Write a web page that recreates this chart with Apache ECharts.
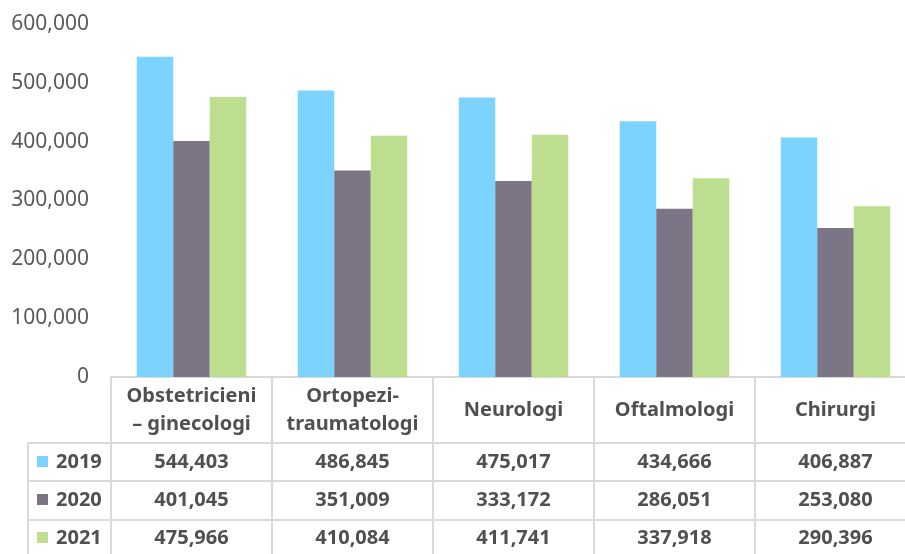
<!DOCTYPE html>
<html>
<head>
<meta charset="utf-8">
<script src="https://cdn.jsdelivr.net/npm/echarts@6/dist/echarts.min.js"></script>
<style>
  html, body { margin: 0; padding: 0; background: #fff; overflow: hidden; }
  #main { width: 930px; height: 554px; }
</style>
</head>
<body>
<div id="main"></div>
<script>
// data
var categories = ['Obstetricieni\n– ginecologi', 'Ortopezi-\ntraumatologi', 'Neurologi', 'Oftalmologi', 'Chirurgi'];
var years = ['2019', '2020', '2021'];
var values2019 = [544403, 486845, 475017, 434666, 406887];
var values2020 = [401045, 351009, 333172, 286051, 253080];
var values2021 = [475966, 410084, 411741, 337918, 290396];
var yTicks = [0, 100000, 200000, 300000, 400000, 500000, 600000];

var colors = ['#7DD3FF', '#7B7585', '#BDDE8E'];
var seriesData = [values2019, values2020, values2021];
var font = '"Noto Sans", "Open Sans", sans-serif';
var lineColor = '#d9d9d9';

function fmt(v) {
  return v.toString().replace(/\B(?=(\d{3})+(?!\d))/g, ',');
}

var chart = echarts.init(document.getElementById('main'));

// plot area runs past the right edge of the visible 905px, like the original
var option = {
  animation: false,
  backgroundColor: '#fff',
  color: colors,
  textStyle: { fontFamily: font },
  grid: { left: 111, top: 24, width: 805, height: 353 },
  xAxis: {
    type: 'category',
    data: categories,
    axisLine: { show: true, lineStyle: { color: lineColor, width: 2 } },
    axisTick: { show: true, alignWithLabel: false, length: 180, lineStyle: { color: lineColor, width: 2 } },
    axisLabel: {
      interval: 0,
      margin: 33,
      verticalAlign: 'middle',
      color: '#505050',
      fontWeight: 'bold',
      fontSize: 20,
      lineHeight: 28,
      fontFamily: font
    }
  },
  yAxis: {
    type: 'value',
    min: yTicks[0],
    max: yTicks[yTicks.length - 1],
    interval: yTicks[1] - yTicks[0],
    splitLine: { show: false },
    axisLine: { show: false },
    axisTick: { show: false },
    axisLabel: {
      margin: 22,
      color: '#595959',
      fontSize: 21,
      fontFamily: font,
      formatter: function (v) { return fmt(v); }
    }
  },
  series: years.map(function (y, i) {
    return {
      name: y,
      type: 'bar',
      data: seriesData[i],
      barGap: '0%',
      barCategoryGap: '32%',
      itemStyle: { color: colors[i] }
    };
  })
};

chart.setOption(option);

// data table under the axis
var rowY = [462, 500, 538];
var graphic = [];
[443, 481, 520].forEach(function (y) {
  graphic.push({
    type: 'line',
    shape: { x1: 28, y1: y, x2: 930, y2: y },
    style: { stroke: lineColor, lineWidth: 2 }
  });
});
graphic.push({
  type: 'line',
  shape: { x1: 28, y1: 443, x2: 28, y2: 554 },
  style: { stroke: lineColor, lineWidth: 2 }
});

years.forEach(function (y, i) {
  graphic.push({
    type: 'rect',
    shape: { x: 37, y: rowY[i] - 6, width: 11, height: 11 },
    style: { fill: colors[i] }
  });
  graphic.push({
    type: 'text',
    x: 56, y: rowY[i],
    style: {
      text: y, fill: '#505050', font: 'bold 20px ' + font,
      textAlign: 'left', textVerticalAlign: 'middle'
    }
  });
  seriesData[i].forEach(function (v, j) {
    var cx = chart.convertToPixel({ xAxisIndex: 0 }, j);
    graphic.push({
      type: 'text',
      x: cx, y: rowY[i],
      style: {
        text: fmt(v), fill: '#505050', font: 'bold 20px ' + font,
        textAlign: 'center', textVerticalAlign: 'middle'
      }
    });
  });
});

chart.setOption({ graphic: graphic });
</script>
</body>
</html>
